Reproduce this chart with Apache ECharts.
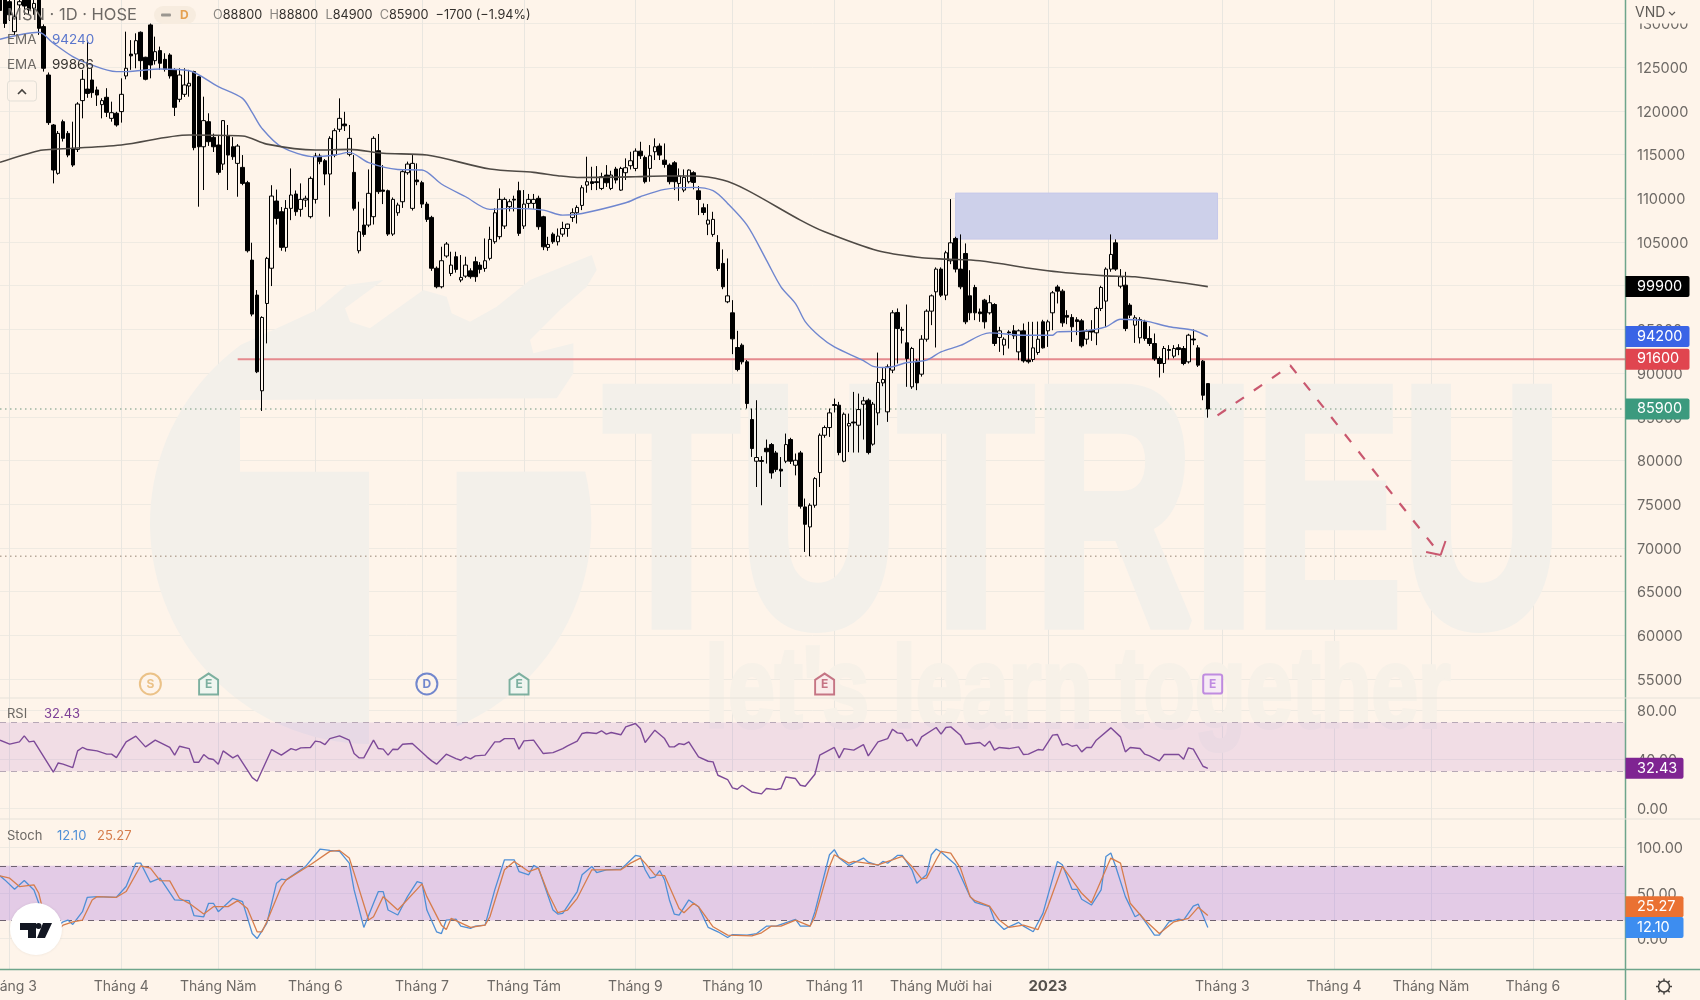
<!DOCTYPE html>
<html><head><meta charset="utf-8">
<style>html,body{margin:0;padding:0;background:#fef4ea}#c{width:1700px;height:1000px}</style>
<script src="https://cdn.jsdelivr.net/npm/echarts@6/dist/echarts.min.js"></script>
</head><body><div id="c"></div>
<script>
// [open, close, low, high] per trading day
const candles = [
[133500,131500,130500,134500],[133500,130000,129500,134500],[132500,131000,130300,133800],[129070,130800,128700,133000],[132130,132500,131500,133500],
[133500,132000,131000,134500],[133500,131550,131000,134500],[131750,132300,131000,133500],[133000,129450,128700,134000],[129650,124880,124500,129900],
[124110,118660,118400,124400],[118390,113240,111710,118500],[112860,117430,112700,117700],[118770,116860,116500,119000],[117430,114950,114700,117700],
[115720,113810,113600,118770],[115600,120790,115300,121000],[121180,123620,119150,124700],[122500,122000,121500,128100],[123540,122090,121500,124880],
[122400,121820,120570,122780],[120720,121180,119150,121450],[121560,119840,119300,122600],[119150,119800,118770,121060],[119730,118390,118200,119900],
[119920,121900,118660,123730],[124000,124880,123620,129070],[126500,126300,124700,128100],[126520,128040,124880,128880],[129000,125750,123900,129100],
[126140,123620,123500,126200],[129840,125260,123730,130000],[125750,126780,125300,128500],[126900,125450,124700,127360],[125900,124760,124500,126600],
[126400,124000,123700,126600],[124690,120410,119420,124880],[121330,124110,121000,124880],[121900,122970,121600,124880],[122850,123160,121630,124700],
[124500,115800,115500,124600],[123920,115900,109040,124000],[115900,118890,110950,121630],[118770,116480,116000,119730],[116980,115900,115300,117400],
[116100,112970,112700,117250],[113920,118890,113240,118960],[117130,114950,110950,118390],[115900,114760,114400,117000],[114000,115980,110180,116200],
[113540,111710,111500,114950],[111790,104000,103800,112000],[102930,96750,96500,104920],[98930,90150,90000,99500],[87980,96370,85670,96500],
[97970,103130,93400,103300],[102000,110260,99960,111500],[109690,107700,107000,111000],[108470,104390,104000,109000],[104390,108850,103900,109800],
[108850,110380,107500,113420],[110490,108470,108000,110900],[108740,109880,107900,111710],[109800,110000,109000,110300],[107900,112280,107700,112500],
[109880,114840,109400,115200],[114840,114200,113900,115100],[114300,112780,111500,114500],[112780,116860,107900,117100],[114950,117740,114700,118000],
[117900,119150,117600,121440],[118500,118300,117700,119900],[115030,116860,114800,118390],[112970,108850,108600,114950],[104000,106180,103700,109610],
[106940,105870,105600,108850],[106940,110570,106700,113310],[107900,116860,107000,117100],[115450,110760,110500,117360],[110950,110800,109340,113800],
[110870,105910,105700,111000],[105910,109880,105700,110100],[108350,109230,108000,109500],[109610,113050,108900,113300],[112930,113920,112700,114200],
[108850,114000,108600,114950],[112100,111900,111500,114000],[111790,109340,108900,112000],[109340,107590,107300,109600],[107820,102000,101700,108000],
[102000,99880,99700,102200],[99880,102860,99700,104460],[103400,104770,103200,105000],[101400,102360,101100,103890],[103320,101870,101500,103890],
[100650,100950,100400,103510],[101100,102360,100900,103320],[101700,101030,100800,102000],[102750,101030,100450,103320],[102360,101870,101400,102700],
[101980,102860,101600,105410],[103130,105300,102900,106750],[105030,108350,104800,108850],[105610,109880,105300,111140],[106830,109880,106500,110100],
[109040,109610,108500,109900],[109900,109800,108500,110300],[110870,105990,105700,111900],[106830,109340,106500,110950],[109420,109880,108900,110500],
[109420,109880,108800,110500],[110000,106750,106400,110300],
[107890,104450,104070,108000],[104380,104720,104000,105600],[105900,105030,104800,106100],[105030,105680,104600,106550],[105900,106550,105600,107320],
[106550,107050,105600,107100],[107800,108350,107300,108850],[108350,108960,107120,109200],[109190,111210,108650,111500],[111510,111900,110640,114760],
[111900,111700,110940,113610],[111900,111800,110940,113690],[111130,112470,110940,112930],[112660,111780,111300,113800],[111130,112660,110940,113150],
[113350,112090,111700,113600],[110940,113420,110860,113610],[112930,113500,112100,114570],[113730,114300,113300,115330],[113420,115400,113100,115710],
[115400,114870,114500,116470],[114680,111900,111700,114900],[113420,114870,111900,116090],[115330,115900,114380,116860],[115980,114950,114380,116280],
[114370,113880,113500,116280],[113800,111900,111600,114000],[114070,111900,110940,114260],[111700,112540,109720,113420],[110940,112390,110700,113310],
[111900,113230,111700,113310],[112930,111820,111020,113100],[110860,109870,108080,111400],[108920,108380,108080,109410],[107050,107510,105790,109340],
[105870,107590,105600,108460],[104950,101970,101700,105790],[102550,99880,99600,104150],[98160,98840,98000,103120],[96900,93920,92170,98350],
[92930,90410,90200,94840],[93200,91290,91000,93400],[91290,86520,85950,91500],[84690,81370,80410,85950],[79920,80340,76970,86900],
[80000,79900,74880,80500],[81400,81000,79650,82400],[81825,78580,77920,82000],[80870,78960,78700,81100],[79000,78800,76970,80400],
[79920,81825,79700,83085],[82400,79920,79600,82600],[79460,80030,78300,80800],[80870,74770,74500,81100],[74690,72700,69540,75650],
[72400,74880,69040,75100],[74880,77930,74600,78100],[78620,82890,76970,83100],[82890,83770,82600,84000],[83770,85450,82700,85950],
[86400,86300,85500,87090],[86330,80910,80600,86710],[79920,85300,79800,85500],[83960,84230,80960,85370],[84400,84300,80910,87850],
[84040,85830,80910,87660],[86440,86830,82400,87280],[86900,80910,80700,87100],[81870,86450,81700,86700],[85450,88930,84040,92350],
[88880,89270,88500,90700],[85570,90720,84420,91000],[90340,96900,90000,97200],[96940,95100,91100,97400],[95000,94900,93390,95300],
[93470,91670,88430,97850],[88430,92820,88200,93000],[91370,88880,88050,91600],[89880,93880,89600,94340],[93880,97090,93600,97300],
[97090,98840,95490,99000],[99300,101900,92930,102100],[101900,98920,98700,102100],[98920,103770,98350,104000],[102850,104910,102470,109910],
[105410,101900,101520,105600],[101900,99870,99600,105870],[103690,95870,95600,104840],[98850,96900,96060,101780],[99800,96900,96060,100100],
[97000,96800,95870,97390],[98350,95870,95100,98500],[96900,98050,96700,98920],[97850,93390,93100,98000],[94080,94840,92430,95300],
[93200,93880,92050,94100],[94700,94600,92810,94900],[94840,94270,93900,95490],[92430,94840,91480,95000],[94840,91400,91200,95680],
[91500,91300,91100,95870],[91560,92890,91290,95870],[92360,93880,92100,95900],[95870,92890,92810,96100],[94840,95870,93000,96100],
[96900,99190,94910,99400],[99860,99380,97970,100100],[99380,95750,95300,99600],[96600,96400,95600,97200],[96370,95300,93580,96750],
[96100,95900,94340,96400],[95980,93120,92930,96200],[93880,94800,93280,95000],[94900,94700,93690,96060],[94610,97400,93200,97600],
[97400,99800,97100,100000],[98240,101900,95300,102100],[101900,103580,101600,105870],[104910,101900,101700,105300],[99950,101020,99700,101900],
[100060,95100,94800,101590],[97780,96630,96300,98000],[95490,96330,93460,96630],[94040,96140,93390,96400],[95870,93960,93700,96100],
[93960,93390,93100,95370],[93390,91630,91400,94530],[91670,91100,89500,91900],[91100,92820,90030,93100],[92700,92600,91560,93200],
[91940,92820,91700,93200],[92900,92700,92050,93310],[92820,91100,90900,93100],[91290,94340,91100,94500],[93900,93800,93200,95000],
[92890,90910,90700,93200],[91370,87470,86900,91500],[88800,85900,84900,88800]
];
const barCount = 336;
const xTickIdx = [2,25,45,65,87,108,131,151,172,194,216,252,275,295,316];
const xTickLabels = ['Tháng 3','Tháng 4','Tháng Năm','Tháng 6','Tháng 7','Tháng Tám','Tháng 9','Tháng 10','Tháng 11','Tháng Mười hai','2023','Tháng 3','Tháng 4','Tháng Năm','Tháng 6'];
const priceTicks = [55000,60000,65000,70000,75000,80000,85000,90000,95000,100000,105000,110000,115000,120000,125000,130000];
const rsiTicks = [0,40,80];
const stochTicks = [0,50,100];

const emaFastIdx = [0,8,11,15,18,24,26,33,39,45,50,52,54,58,65,69,72,76,82,87,91,96,101,106,112,116,120,129,132,137,143,147,150,154,158,161,164,166,169,172,178,180,183,187,191,194,198,204,211,217,218,223,228,231,236,241,246,249];
const emaFast = [128200,129000,127740,126210,125450,124500,124500,124800,124600,122780,121440,119800,118000,115900,114760,114950,115260,114080,113300,113240,111640,110180,108740,108850,108650,108080,108270,109490,110180,111020,111250,110870,109420,106930,102930,99880,97960,95900,94190,93000,91430,90780,90640,91210,91480,92430,93170,94610,94340,94340,94720,94800,95300,96170,95980,95300,94910,94200];
const emaSlowIdx = [0,8,11,25,39,50,55,65,72,79,88,101,110,115,119,131,137,143,149,154,165,170,181,190,195,202,216,228,234,249];
const emaSlow = [114120,115450,115600,116100,117240,117130,116200,115530,115600,115150,114950,113350,112970,112590,112390,112470,112550,112550,112090,110940,107510,106170,104000,103200,103040,102850,101710,101130,101020,99900];

const rsiIdx = [0,2,4,5,6,7,11,12,13,15,16,17,18,20,22,23,24,26,28,30,32,35,36,37,39,40,41,42,43,44,45,46,48,49,52,53,56,58,60,61,62,64,65,66,67,68,70,72,73,74,75,77,78,79,80,81,82,83,85,88,89,90,92,94,95,96,97,98,100,102,103,104,106,107,108,110,112,114,116,117,119,120,121,123,124,125,126,128,129,131,132,133,135,137,138,139,140,141,142,144,146,147,148,150,151,152,153,155,157,158,160,161,162,164,165,166,168,169,172,173,174,176,178,179,181,183,184,185,186,187,188,189,190,193,194,195,196,198,199,202,203,204,205,206,208,210,211,212,214,215,217,218,219,220,221,222,223,224,225,226,229,231,232,233,235,236,237,239,240,243,244,245,246,248,249];
const rsi = [55.5,52.2,54.1,59,54.1,54.7,29.2,36.8,35.8,33,46.7,49.5,47.8,46.7,44,44,41.2,54.1,58.8,50,55.5,49.5,43.2,50.5,48.6,37.4,37.4,43.7,40.4,39.6,35.8,46.7,41,43.2,24.8,21.8,47.8,43.2,48.6,47.3,49.2,49.5,54.7,54.1,51.9,56.8,59,55.5,44.5,41,41,55.5,48.6,48.1,43.2,48.1,47.8,52.2,52.7,41.8,38.5,35.8,44,40.4,39,41.8,40.1,42.6,43.2,54.1,54.1,56.8,56.8,48.1,54.9,55.5,44.5,45.3,48.6,50.8,54.7,61,61.8,61,63.2,60.4,61.8,59.9,66.4,69.2,65,53.6,63.7,56.8,50,50,52.7,51.9,54.1,41.8,38.2,37.7,26.7,23.2,16.3,15.2,18.5,13,11.4,15.8,14.9,15.8,25.3,24,18.5,17.7,27.5,43.2,49.5,41,48.6,47.3,51.9,42.6,54.1,56.8,64.5,61.5,61,54.9,56.3,50.5,58.2,65.9,60.4,65.9,66.4,59.6,52.2,53.6,50.5,54.7,47.3,49.5,48.6,50,43.7,44,47.8,47.3,59.6,60.1,51.4,52.7,50.5,51.4,45.9,49.5,49.5,55.5,65.6,58.2,45.9,49.5,48.6,44,42.6,38.5,43.7,43.7,39.9,49.2,48.1,34.1,32.43];

const stochKIdx = [0,1,3,5,7,8,9,11,13,14,15,17,18,20,24,26,28,29,31,33,36,39,40,42,43,44,45,48,50,52,53,55,57,58,59,63,66,68,70,72,73,75,77,78,79,80,82,84,86,87,88,90,91,92,94,95,97,98,100,102,104,106,107,109,110,111,114,115,116,119,120,122,123,125,128,129,131,132,133,134,135,136,137,138,139,140,142,144,146,148,150,151,154,156,158,160,164,165,167,168,171,172,173,175,178,179,181,182,183,185,186,188,189,191,192,193,194,197,200,201,204,205,207,208,210,211,213,215,218,219,221,222,223,225,227,228,229,230,232,234,235,238,239,241,243,244,246,247,249];
const stochK = [69,64.5,54.2,63.8,53.5,38.8,16.7,9.3,18.5,20.4,15.6,29.6,45.4,46.1,45.4,57.2,82.9,82.9,62,66.4,42.5,41.7,25.2,24,38.8,38.8,29.6,44.3,40.6,5.6,0.1,16.7,60.9,65.3,64.5,79.3,98.4,96.9,95.8,82.9,53.5,12.3,38.8,51.7,51.7,31.4,25.9,46.1,62.7,60.9,31.4,7.5,5.6,20.4,21.5,13.7,11.2,13.7,14.8,53.5,86.6,86.6,73.7,70.1,80.4,77.4,31.4,27,27.7,51.7,70.1,79.3,72.6,75.6,76.3,81.1,91.4,90.3,75.6,66.4,67.5,74.8,64.5,42.5,27,25.9,42.5,35.1,12.3,7.5,1.2,4.5,3.8,5.6,13.7,13.7,21.1,13.7,13.7,29.6,92.1,97.7,88.5,80.4,88.5,84,80.4,84.8,82.9,91.4,91.4,75.6,60.9,70.1,92.1,98.4,95.1,81.1,46.1,39.9,35.1,20.4,10.1,13,17.8,13.7,7.5,27.7,84.8,81.1,54.2,54.2,43.2,36.9,53.5,90.3,94,79.3,46.1,24,27,3.8,3.8,18.5,21.5,20.4,35.8,38,12.1];
const stochDIdx = [0,2,4,7,8,9,12,13,15,17,19,20,24,26,29,31,33,35,37,39,42,44,47,49,51,53,54,55,58,59,64,68,70,72,73,76,77,79,82,87,88,91,92,93,97,100,101,104,106,109,111,113,115,117,119,122,123,128,130,132,133,135,137,140,141,143,144,147,150,155,157,159,161,164,167,168,171,172,175,176,181,186,188,190,191,193,194,196,198,200,201,204,206,208,211,214,216,219,223,225,229,231,233,236,239,242,245,247,249];
const stochD = [69,66.4,57.2,59,49.8,27.7,9.3,14.8,18.5,20.4,42.5,46.1,45.4,51.7,80,77.4,63.8,63.4,44.3,38.8,27,35.1,35.1,41.7,33.2,7.5,7.5,18.5,57.2,64.5,81.1,95.8,96.9,88.5,71.9,20.4,24,46.1,31.4,60.1,46.1,14.8,10,22.2,12.3,14.8,24,75.6,84.8,73.7,77.4,49.8,28.5,31.4,44.3,75.6,75.6,75.6,82.9,88.5,82.9,70.1,69.3,33.2,28.5,38.8,35.1,13,3.8,3.1,6.4,13.7,13.7,20.4,13.7,24,79.3,92.1,82.9,84.8,81.1,90.3,79.3,65.6,66.4,86.6,95.8,94,77.4,46.1,41.7,35.8,20.4,12.3,14.8,10,35.1,79.3,49.8,39.5,88.5,82.9,38.8,20.4,5.6,18.5,22.2,34.4,25.27];

const forecastIdx = [251,266,297];
const forecast = [85165,90870,69190];
const zoneIdx = [197,251];
const zonePrice = [110600,105335];
const supportStart = 49;
const supportPrice = 91600;
const dotted = [85900,69050];
const eventIdx = [31,43,88,107,170,250];
const eventLetters = ['S','E','D','E','E','E'];
const eventColors = ['#e6b56f','#5f9f8c','#4f6cc6','#5f9f8c','#b8566a','#b273dc'];
const eventFills = ['#fef4ea','#ecf6f1','#fef4ea','#ecf6f1','#faeaea','#f5e8f7'];
const eventSymbols = ['circle','house','circle','house','house','square'];
const eventPrice = 54430;

const FONT = 'Inter, "Noto Sans", sans-serif';
const BG = '#fef4ea', GRID = '#efeae2', VGRID = '#e9e6e0', TXT = '#6d6965';
const pairs = (a,b)=>a.map((x,i)=>[x,b[i]]);
const cats = Array.from({length:barCount},(_,i)=>String(i));
const labelOf = {}; xTickIdx.forEach((x,i)=>labelOf[x]=xTickLabels[i]);
const isTick = i=>labelOf[i]!==undefined;
const HOUSE = 'path://M0,6 L9,0 L18,6 L18,20 L0,20 Z';
const SQUARE = 'path://M2,0 L16,0 Q18,0 18,2 L18,16 Q18,18 16,18 L2,18 Q0,18 0,16 L0,2 Q0,0 2,0 Z';

function xAxis(gi, showLabel){
  return {type:'category',gridIndex:gi,data:cats,boundaryGap:false,
    axisLine:{show:false},axisTick:{show:false},
    splitLine:{show:true,interval:(i)=>isTick(i),lineStyle:{color:VGRID,width:1}},
    axisLabel:{show:showLabel,interval:(i)=>isTick(i),margin:10,color:TXT,fontFamily:FONT,fontSize:14,
      formatter:(v)=>{const t=labelOf[+v];return t==='2023'?'{b|2023}':t;},
      rich:{b:{fontWeight:'bold',fontSize:15,color:'#55514d',fontFamily:FONT}}}};
}
function yAxis(gi,min,max,ticks,fmt){
  return {type:'value',gridIndex:gi,position:'right',min,max,scale:true,
    axisLine:{show:false},
    axisTick:{show:false,customValues:ticks},
    splitLine:{show:true,lineStyle:{color:GRID,width:1}},
    axisLabel:{customValues:ticks,align:'left',verticalAlign:'top',lineHeight:3,margin:12,color:TXT,fontFamily:FONT,fontSize:14.5,formatter:fmt}};
}
const plain = {symbol:'none',silent:true,animation:false};
const option = {
  animation:false,backgroundColor:BG,
  grid:[{left:0,width:1625,top:0,height:698,outerBoundsMode:'none'},{left:0,width:1625,top:698,height:121,outerBoundsMode:'none'},{left:0,width:1625,top:819,height:150.3,outerBoundsMode:'none'}],
  xAxis:[xAxis(0,false),xAxis(1,false),xAxis(2,true)],
  yAxis:[
    yAxis(0,52827,132692,priceTicks,(v)=>String(v)),
    yAxis(1,-9.2,90.1,rsiTicks,(v)=>v.toFixed(2)),
    yAxis(2,-33.7,131.4,stochTicks,(v)=>v.toFixed(2))
  ],
  series:[
    {type:'line',name:'support',z:1,data:[[supportStart,supportPrice],[barCount-1,supportPrice]],lineStyle:{color:'#e58a8e',width:2},...plain},
    {type:'line',name:'dot1',z:1,data:[[0,dotted[0]],[barCount-1,dotted[0]]],lineStyle:{color:'#9db5a2',width:1.5,type:[1.5,3.5]},...plain},
    {type:'line',name:'dot2',z:1,data:[[0,dotted[1]],[barCount-1,dotted[1]]],lineStyle:{color:'#b8a99a',width:1.5,type:[1.5,3.5]},...plain},
    {type:'candlestick',name:'MSN',data:candles,barWidth:4,z:3,
      itemStyle:{color:'#fdf5ec',color0:'#000',borderColor:'#000',borderColor0:'#000',borderWidth:1},
      markArea:{silent:true,z:1,itemStyle:{color:'#cdd0ea',borderColor:'#c6c9ea',borderWidth:1},
        data:[[{xAxis:String(zoneIdx[0]),yAxis:zonePrice[0]},{xAxis:String(zoneIdx[1]),yAxis:zonePrice[1]}]]}},
    {type:'line',name:'EMA 50',z:4,smooth:0.3,data:pairs(emaFastIdx,emaFast),lineStyle:{color:'#6f86cf',width:1.4},...plain},
    {type:'line',name:'EMA 200',z:4,smooth:0.3,data:pairs(emaSlowIdx,emaSlow),lineStyle:{color:'#4f4a45',width:1.6},...plain},
    {type:'line',name:'forecast',z:5,data:pairs(forecastIdx,forecast),lineStyle:{color:'#c9586f',width:2.2,type:[10,12]},...plain},
    {type:'line',name:'arrowA',z:5,data:[[294,69530],[297,69190]],lineStyle:{color:'#c9586f',width:2},...plain},
    {type:'line',name:'arrowB',z:5,data:[[298,70790],[297,69190]],lineStyle:{color:'#c9586f',width:2},...plain},
    {type:'scatter',name:'events',z:6,silent:true,
      data:eventIdx.map((x,i)=>({value:[x,eventPrice],
        symbol:eventSymbols[i]==='circle'?'circle':(eventSymbols[i]==='house'?HOUSE:SQUARE),
        symbolSize:eventSymbols[i]==='circle'?21:(eventSymbols[i]==='house'?[19,21]:19),
        itemStyle:{color:eventFills[i],borderColor:eventColors[i],borderWidth:2},
        label:{show:true,position:'inside',formatter:eventLetters[i],color:eventColors[i],fontFamily:FONT,fontWeight:'bold',fontSize:12}}))},
    {type:'line',name:'RSI',xAxisIndex:1,yAxisIndex:1,z:4,data:pairs(rsiIdx,rsi),lineStyle:{color:'#7d4a98',width:1.4},...plain,
      markArea:{silent:true,z:1,itemStyle:{color:'rgba(150,60,200,0.12)'},data:[[{yAxis:70},{yAxis:30}]]},
      markLine:{silent:true,symbol:'none',z:2,label:{show:false},lineStyle:{color:'#b7a8b6',width:1.2,type:[6,5]},data:[{yAxis:70},{yAxis:30}]}},
    {type:'line',name:'%K',xAxisIndex:2,yAxisIndex:2,z:4,data:pairs(stochKIdx,stochK),lineStyle:{color:'#4f8fd6',width:1.3},...plain,
      markArea:{silent:true,z:1,itemStyle:{color:'rgba(130,60,220,0.22)'},data:[[{yAxis:80},{yAxis:20}]]},
      markLine:{silent:true,symbol:'none',z:2,label:{show:false},lineStyle:{color:'#6f6170',width:1.2,type:[6,5]},data:[{yAxis:80},{yAxis:20}]}},
    {type:'line',name:'%D',xAxisIndex:2,yAxisIndex:2,z:4,data:pairs(stochDIdx,stochD),lineStyle:{color:'#d67d4c',width:1.3},...plain}
  ]
};
const chart = echarts.init(document.getElementById('c'),null,{renderer:'canvas'});
chart.setOption(option);

// overlay furniture
const WM='#f3f0ea';
const zp = (p)=>[130+p[0]/3,230+p[1]/3];
function arc(cx,cy,r,from,to,n){const o=[];for(let k=0;k<=n;k++){const a=from+(to-from)*k/n;o.push([cx+r*Math.cos(a),cy+r*Math.sin(a)]);}return o;}
const a0=Math.atan2(340-880,330-722), a1=Math.atan2(1530-880,717-722)-2*Math.PI;
const logoA=[[717,725],[330,725],[330,510],[1280,505],[1330,430],[1330,340],[1210,370],[1200,330],[1290,240],[1370,170],[1400,120],[1385,75],[1200,150],[1100,230],[1020,275],[965,250],[950,200],[880,180],[720,295],[660,275],[645,235],[760,150],[650,165],[560,240]].concat(arc(722,880,662,a0,a1,50)).map(zp);
const b0=Math.atan2(725-880,1365-722), b1=Math.atan2(1490-880,980-722);
const logoB=[[980,725]].concat(arc(722,880,662,b0,b1,24)).map(zp);
const txt=(x,y,text,fill,o)=>Object.assign({type:'text',x,y,z:30,silent:true,style:Object.assign({text,fill,font:'13px '+FONT,verticalAlign:'middle'},o&&o.style||{})},o&&o.el||{});
const hline=(x1,x2,y,c,w)=>({type:'line',z:20,silent:true,shape:{x1,y1:y,x2,y2:y},style:{stroke:c,lineWidth:w||1}});
const vline=(x,y1,y2,c,w)=>({type:'line',z:20,silent:true,shape:{x1:x,y1,x2:x,y2},style:{stroke:c,lineWidth:w||1}});
const tagY=(axis,v)=>chart.convertToPixel({yAxisIndex:axis},v);
function tag(axis,v,text,fill,w,dy){const cy=tagY(axis,v)+(dy||0);return [
  {type:'rect',z:40,silent:true,shape:{x:1625.5,y:cy-10.5,width:w,height:21,r:[0,2,2,0]},style:{fill}},
  {type:'text',z:41,silent:true,x:1637,y:cy,style:{text,fill:'#fff',font:'14.5px '+FONT,verticalAlign:'middle'}}];}
const gear=[];
{const cx=1664,cy=986.5;
 gear.push({type:'circle',z:30,silent:true,shape:{cx,cy,r:5.5},style:{fill:'none',stroke:'#45423f',lineWidth:1.5}});
 for(let k=0;k<8;k++){const a=k*Math.PI/4;gear.push({type:'line',z:30,silent:true,shape:{x1:cx+5.5*Math.cos(a),y1:cy+5.5*Math.sin(a),x2:cx+8*Math.cos(a),y2:cy+8*Math.sin(a)},style:{stroke:'#45423f',lineWidth:1.5}});}
}
const elements=[
  {type:'polygon',z:0,silent:true,shape:{points:logoA},style:{fill:WM}},
  {type:'polygon',z:0,silent:true,shape:{points:logoB},style:{fill:WM}},
  {type:'text',z:0,silent:true,x:604,y:530,scaleX:0.65,style:{text:'TUTRIEU',fill:WM,stroke:WM,lineWidth:12,font:'bold 340px "Liberation Sans", sans-serif',verticalAlign:'middle'}},
  {type:'text',z:0,silent:true,x:705,y:695,scaleX:0.728,style:{text:"let's learn together",fill:'#f7f1e8',stroke:'#f7f1e8',lineWidth:4,font:'bold 115px "Liberation Sans", sans-serif',verticalAlign:'middle'}},
  vline(1625.5,0,1000,'#6ea58b',1.5),
  hline(0,1700,969.5,'#6ea58b',1.5),
  hline(0,1700,698,'#e6e2da'),
  hline(0,1700,819,'#e6e2da'),
  {type:'rect',z:25,silent:true,shape:{x:1627,y:0,width:73,height:23.5},style:{fill:BG}},
  txt(1635,13,'VND','#5f5b57',{style:{font:'14px '+FONT}}),
  {type:'polyline',z:30,silent:true,shape:{points:[[1669,12],[1672,15],[1675,12]]},style:{stroke:'#5f5b57',lineWidth:1.2,fill:'none'}},
  txt(7,15,'MSN · 1D · HOSE','#6d6965',{style:{font:'16.5px '+FONT}}),
  {type:'rect',z:29,silent:true,shape:{x:154,y:6,width:42,height:18,r:9},style:{fill:'#f7ecdf'}},
  {type:'rect',z:30,silent:true,shape:{x:161,y:13.5,width:10,height:3,r:1},style:{fill:'#9a9690'}},
  txt(180,15,'D','#e5a050',{style:{font:'bold 12px '+FONT}}),
  {type:'text',z:30,silent:true,x:213,y:15,style:{text:'{g|O}{v|88800}  {g|H}{v|88800}  {g|L}{v|84900}  {g|C}{v|85900}  {v|−1700 (−1.94%)}',font:'12.7px '+FONT,verticalAlign:'middle',rich:{g:{fill:'#8a8681',font:'12.7px '+FONT},v:{fill:'#33302d',font:'12.7px '+FONT}}}},
  txt(7,40,'EMA','#6d6965',{style:{font:'13.5px '+FONT}}),
  txt(52,40,'94240','#5a76cc',{style:{font:'13.5px '+FONT}}),
  txt(7,65,'EMA','#6d6965',{style:{font:'13.5px '+FONT}}),
  txt(52,65,'99866','#33302d',{style:{font:'13.5px '+FONT}}),
  {type:'rect',z:30,silent:true,shape:{x:7.5,y:81,width:29,height:20,r:3},style:{fill:'rgba(254,244,234,0.7)',stroke:'#e3dfd7'}},
  {type:'polyline',z:31,silent:true,shape:{points:[[18,94],[22,90],[26,94]]},style:{stroke:'#45423f',lineWidth:1.6,fill:'none'}},
  txt(7,714,'RSI','#6d6965'),
  txt(44,714,'32.43','#7d3f96'),
  txt(7,836,'Stoch','#6d6965'),
  txt(57,836,'12.10','#4f8fd6'),
  txt(97,836,'25.27','#d67d4c'),
  {type:'circle',z:35,silent:true,shape:{cx:36,cy:929,r:26},style:{fill:'#fff',shadowBlur:3,shadowColor:'rgba(0,0,0,0.08)'}},
  {type:'polygon',z:36,silent:true,shape:{points:[[20,923],[36,923],[36,938],[28,938],[28,930],[20,930]]},style:{fill:'#131722'}},
  {type:'circle',z:36,silent:true,shape:{cx:38.5,cy:926,r:3},style:{fill:'#131722'}},
  {type:'polygon',z:36,silent:true,shape:{points:[[43,923],[52,923],[45,938],[37,938]]},style:{fill:'#131722'}},
  ...gear,
  ...tag(0,99900,'99900','#000',64),
  ...tag(0,94200,'94200','#3a64e6',64),
  ...tag(0,91600,'91600','#e0454f',64),
  ...tag(0,85900,'85900','#3c9a7e',64),
  ...tag(1,32.43,'32.43','#7f2492',58),
  ...tag(2,25.27,'25.27','#ea7132',58,-8.8),
  ...tag(2,12.10,'12.10','#3d8df0',58)
];
chart.setOption({graphic:{elements}});
</script></body></html>
